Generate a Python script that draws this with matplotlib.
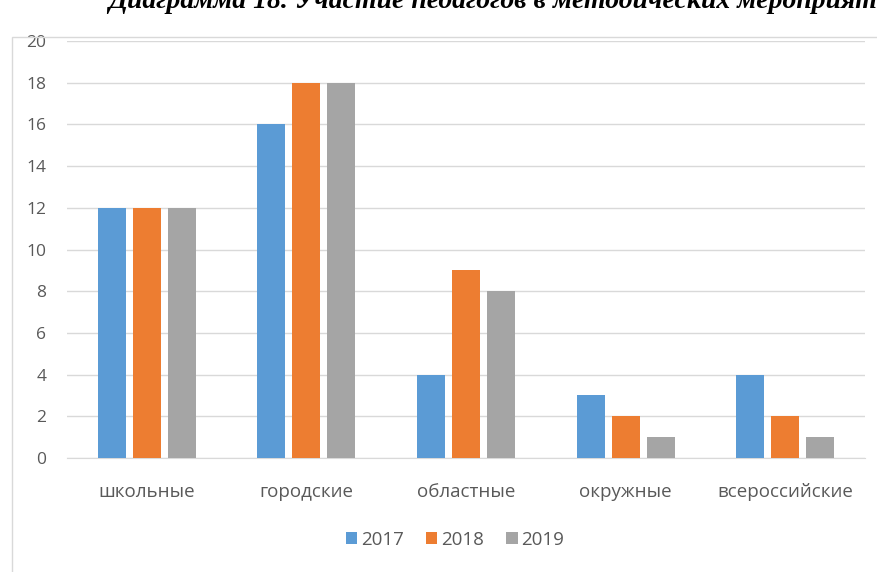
import numpy as np
import matplotlib.pyplot as plt
from matplotlib.patches import Rectangle

categories = ["школьные", "городские", "областные", "окружные", "всероссийские"]
years = ["2017", "2018", "2019"]
values_2017 = [12, 16, 4, 3, 4]
values_2018 = [12, 18, 9, 2, 2]
values_2019 = [12, 18, 8, 1, 1]
colors = ["#5b9bd5", "#ed7d31", "#a5a5a5"]

plt.rcParams["font.family"] = ["Open Sans", "DejaVu Sans"]

fig = plt.figure(figsize=(8.77, 5.72), dpi=100)

# Рамка области диаграммы
fig.patches.append(Rectangle((12 / 877, -0.01), 1.0, 1 - 37 / 572 + 0.01,
                             transform=fig.transFigure, fill=False,
                             edgecolor="#d9d9d9", linewidth=1))

ax = fig.add_axes([67 / 877, 1 - 458 / 572, 798 / 877, 417 / 572])

x = np.arange(len(categories))
w = 35 / 159.6
for i, (vals, year) in enumerate(zip([values_2017, values_2018, values_2019], years)):
    ax.bar(x + (i - 1) * w, vals, width=28 / 159.6, color=colors[i], label=year, zorder=3)

ax.set_xlim(-0.5, len(categories) - 0.5)
ax.set_ylim(0, 20)
ax.set_yticks(range(0, 21, 2))
ax.set_xticks(x)
ax.set_xticklabels(categories, fontsize=13.5)
ax.grid(axis="y", color="#d9d9d9", linewidth=1, zorder=0)
for s in ["top", "right", "left"]:
    ax.spines[s].set_visible(False)
ax.spines["bottom"].set_color("#d9d9d9")
ax.tick_params(axis="both", length=0, colors="#595959")
ax.tick_params(axis="y", labelsize=12.5, pad=15)
ax.tick_params(axis="x", pad=18)

ax.legend(loc="center", bbox_to_anchor=(455 / 877, 1 - 540 / 572),
          bbox_transform=fig.transFigure, ncol=3, frameon=False,
          fontsize=13.5, handlelength=0.6, handleheight=0.6, handletextpad=0.2,
          columnspacing=1.2, labelcolor="#595959")

# Заголовок (обрезан сверху)
fig.text(108 / 877, 1 - 8 / 572, "Диаграмма 18. Участие педагогов в методических мероприятиях",
         family="Liberation Serif", fontsize=20, fontweight="bold", style="italic",
         ha="left", va="baseline", color="black")

fig.savefig("out.png", dpi=100)
plt.close()
